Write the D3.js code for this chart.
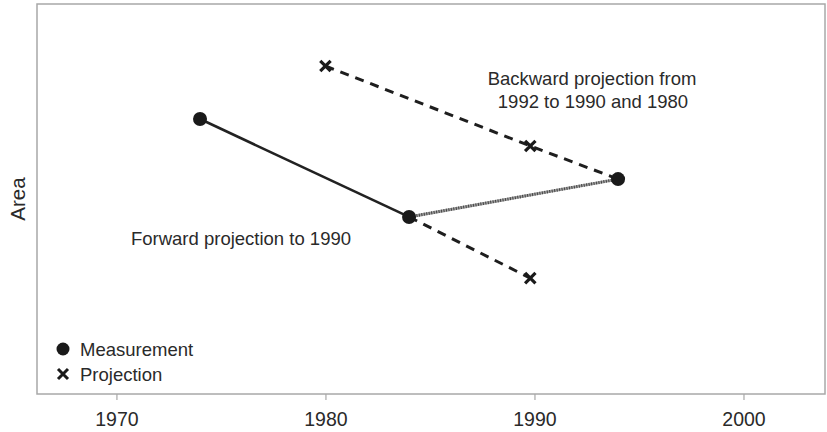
<!DOCTYPE html>
<html>
<head>
<meta charset="utf-8">
<script src="https://cdn.jsdelivr.net/npm/d3@7"></script>
<style>
  body { margin: 0; background: #fff; }
  text { font-family: "Liberation Sans", Arial, Helvetica, sans-serif; fill: #2a2a2a; }
</style>
</head>
<body>
<svg id="chart" width="827" height="432"></svg>
<script>
// measurements (circles) and projections (crosses), area in arbitrary units
const measYears = [1974, 1984, 1994];
const measArea = [70.5, 45.4, 55.1];
const projYears = [1980, 1989.8, 1989.8];
const projArea = [84.1, 63.6, 29.7];
const tickYears = [1970, 1980, 1990, 2000];

const meas = measYears.map((yr, i) => ({ year: yr, area: measArea[i] }));
const proj = projYears.map((yr, i) => ({ year: yr, area: projArea[i] }));

const svg = d3.select("#chart");
const plotLeft = 37, plotRight = 825, plotTop = 4, plotBottom = 394;

const x = d3.scaleLinear().domain([1966.2, 2003.9]).range([plotLeft, plotRight]);
const y = d3.scaleLinear().domain([0, 100]).range([plotBottom, plotTop]);

// plot frame
svg.append("rect")
  .attr("x", plotLeft).attr("y", plotTop)
  .attr("width", plotRight - plotLeft).attr("height", plotBottom - plotTop)
  .attr("fill", "none").attr("stroke", "#a8a8a8").attr("stroke-width", 1.5);

// x axis
const xAxis = svg.append("g")
  .attr("transform", `translate(0,${plotBottom})`)
  .call(d3.axisBottom(x).tickValues(tickYears).tickFormat(d3.format("d")).tickSize(6).tickPadding(12));
xAxis.select(".domain").remove();
xAxis.selectAll(".tick line").attr("stroke", "#a8a8a8").attr("stroke-width", 1.2);
xAxis.selectAll(".tick text")
  .style("font-size", "19.5px").style("font-family", "Liberation Sans, Arial, sans-serif").style("fill", "#2a2a2a");

// y label
svg.append("text")
  .attr("transform", `translate(25,${(plotTop + plotBottom) / 2}) rotate(-90)`)
  .attr("text-anchor", "middle")
  .style("font-size", "20.5px")
  .text("Area");

const line = d3.line().x(d => x(d.year)).y(d => y(d.area));

// forward measured trend
svg.append("path").datum([meas[0], meas[1]])
  .attr("d", line).attr("fill", "none")
  .attr("stroke", "#222").attr("stroke-width", 2.6);

// link between measurements
svg.append("path").datum([meas[1], meas[2]])
  .attr("d", line).attr("fill", "none")
  .attr("stroke", "#a0a0a0").attr("stroke-width", 3);
svg.append("path").datum([meas[1], meas[2]])
  .attr("d", line).attr("fill", "none")
  .attr("stroke", "#444").attr("stroke-width", 3).attr("stroke-dasharray", "1,1.5");

// projections
svg.append("path").datum([proj[0], proj[1], meas[2]])
  .attr("d", line).attr("fill", "none")
  .attr("stroke", "#1e1e1e").attr("stroke-width", 3).attr("stroke-dasharray", "9,7");
svg.append("path").datum([meas[1], proj[2]])
  .attr("d", line).attr("fill", "none")
  .attr("stroke", "#1e1e1e").attr("stroke-width", 3).attr("stroke-dasharray", "9,7");

// markers
svg.selectAll("circle.meas").data(meas).enter().append("circle")
  .attr("class", "meas")
  .attr("cx", d => x(d.year)).attr("cy", d => y(d.area)).attr("r", 7)
  .attr("fill", "#1a1a1a");

const cross = (cx, cy, s) => `M${cx - s},${cy - s}L${cx + s},${cy + s}M${cx + s},${cy - s}L${cx - s},${cy + s}`;
svg.selectAll("path.proj").data(proj).enter().append("path")
  .attr("class", "proj")
  .attr("d", d => cross(x(d.year), y(d.area), 5.2))
  .attr("stroke", "#1a1a1a").attr("stroke-width", 3.2).attr("fill", "none");

// annotations
svg.append("text").attr("x", 592).attr("y", 85).attr("text-anchor", "middle")
  .style("font-size", "18.5px").text("Backward projection from");
svg.append("text").attr("x", 593).attr("y", 108).attr("text-anchor", "middle")
  .style("font-size", "18.5px").text("1992 to 1990 and 1980");
svg.append("text").attr("x", 241).attr("y", 245).attr("text-anchor", "middle")
  .style("font-size", "18.5px").text("Forward projection to 1990");

// legend
const legend = svg.append("g");
legend.append("circle").attr("cx", 63).attr("cy", 349).attr("r", 6.5).attr("fill", "#1a1a1a");
legend.append("path").attr("d", cross(63, 374, 5))
  .attr("stroke", "#1a1a1a").attr("stroke-width", 3).attr("fill", "none");
legend.append("text").attr("x", 80).attr("y", 356).style("font-size", "18.5px").text("Measurement");
legend.append("text").attr("x", 80).attr("y", 381).style("font-size", "18.5px").text("Projection");
</script>
</body>
</html>
